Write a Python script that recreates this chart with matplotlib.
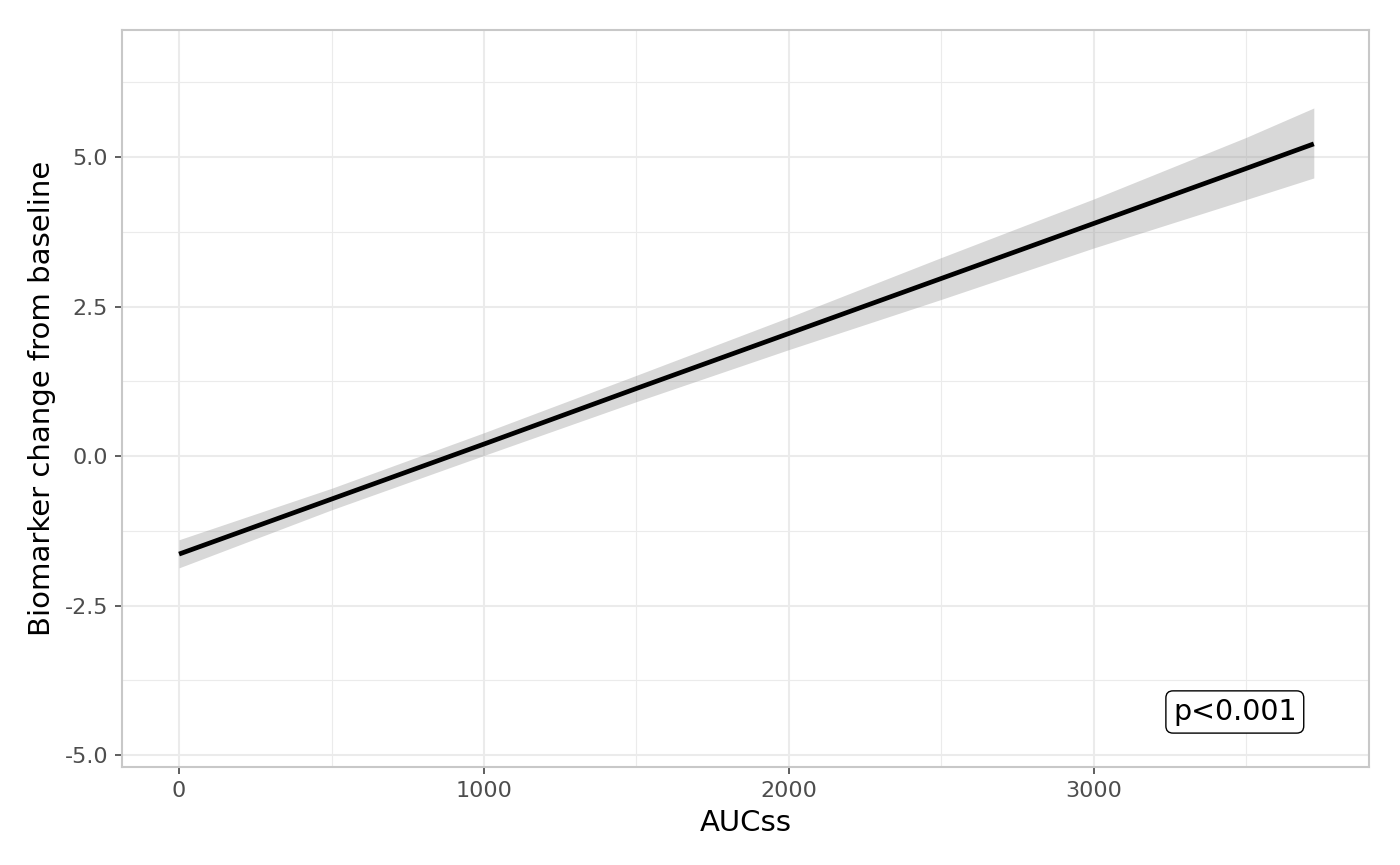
import matplotlib
matplotlib.use("Agg")
import matplotlib.pyplot as plt
from matplotlib.ticker import FixedLocator

plt.rcParams['font.family'] = ['DejaVu Sans']

# Data (fitted line and confidence band)
auc = [0, 500, 1000, 1500, 2000, 2500, 3000, 3500, 3721]
fit = [-1.64, -0.72, 0.20, 1.13, 2.05, 2.97, 3.89, 4.81, 5.22]
lower = [-1.87, -0.90, 0.01, 0.91, 1.78, 2.62, 3.48, 4.29, 4.65]
upper = [-1.40, -0.54, 0.39, 1.35, 2.32, 3.32, 4.30, 5.33, 5.82]

x_major = [0, 1000, 2000, 3000]
x_minor = [500, 1500, 2500, 3500]
y_major = [-5.0, -2.5, 0.0, 2.5, 5.0]
y_minor = [-3.75, -1.25, 1.25, 3.75, 6.25]
y_labels = ["-5.0", "-2.5", "0.0", "2.5", "5.0"]
annot_text = "p<0.001"

fig = plt.figure(figsize=(14, 8.65), dpi=100)
ax = fig.add_axes([122/1400, 1-767/865, (1369-122)/1400, (767-30)/865])

ax.set_xlim(-187, 3902)
ax.set_ylim(-5.2, 7.124)

grid_c = "#EBEBEB"
ax.xaxis.set_major_locator(FixedLocator(x_major))
ax.xaxis.set_minor_locator(FixedLocator(x_minor))
ax.yaxis.set_major_locator(FixedLocator(y_major))
ax.yaxis.set_minor_locator(FixedLocator(y_minor))
ax.set_yticklabels(y_labels)
ax.grid(which="major", color=grid_c, linewidth=1.5)
ax.grid(which="minor", color=grid_c, linewidth=0.8)
ax.set_axisbelow(True)

ax.fill_between(auc, lower, upper, color="#999999", alpha=0.38, linewidth=0, zorder=2)
ax.plot(auc, fit, color="black", linewidth=3.4, solid_capstyle="butt", zorder=3)

for s in ax.spines.values():
    s.set_color("#C8C8C8")
    s.set_linewidth(1.5)

ax.tick_params(which="major", length=5, width=1.1, color="#333333",
               labelcolor="#4D4D4D", labelsize=16, pad=5)
ax.tick_params(which="minor", length=0)

ax.set_xlabel("AUCss", fontsize=21, color="black", labelpad=6)
ax.set_ylabel("Biomarker change from baseline", fontsize=21, color="black", labelpad=6)

ax.text(3462, -4.28, annot_text, fontsize=20.5, ha="center", va="center", zorder=5,
        bbox=dict(boxstyle="round,pad=0.25,rounding_size=0.25", fc="white", ec="black", lw=1.0))

fig.savefig("out.png", dpi=100)
